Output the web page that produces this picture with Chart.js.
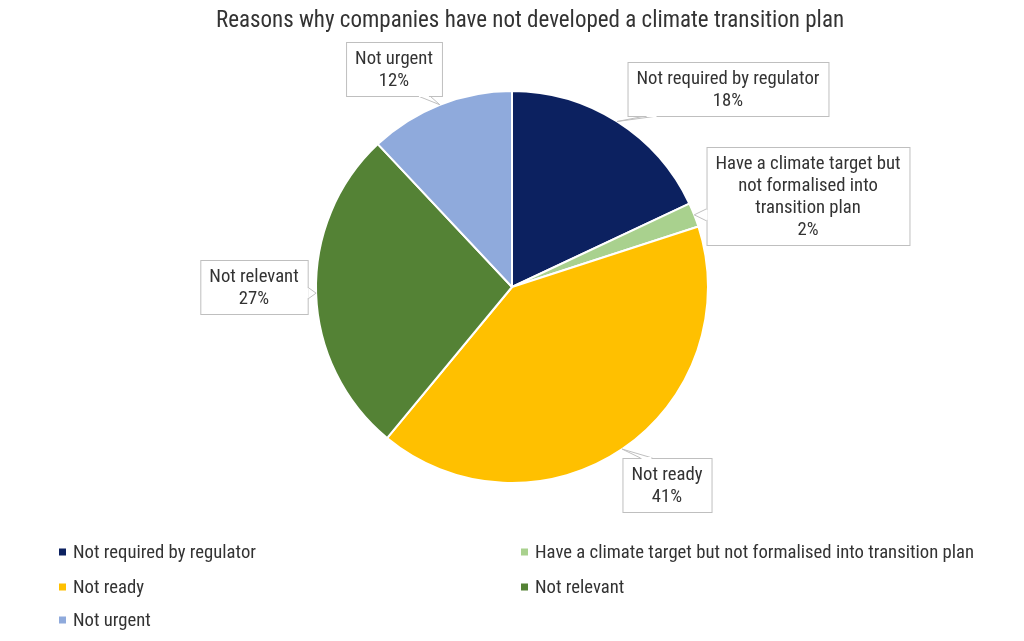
<!DOCTYPE html>
<html>
<head>
<meta charset="utf-8">
<script src="https://cdn.jsdelivr.net/npm/chart.js@4.4.1/dist/chart.umd.min.js"></script>
<style>
  html, body { margin: 0; padding: 0; background: #ffffff; }
  #wrap { width: 1024px; height: 641px; }
</style>
</head>
<body>
<div id="wrap"><canvas id="pieChart" width="1024" height="641"></canvas></div>
<script>
// Chart data
const chartTitle = 'Reasons why companies have not developed a climate transition plan';
const categories = [
    'Not required by regulator',
    'Have a climate target but not formalised into transition plan',
    'Not ready',
    'Not relevant',
    'Not urgent'
];
const shares = [18, 2, 41, 27, 12];
// Callout text as it wraps inside each box
const calloutLines = [
    ['Not required by regulator'],
    ['Have a climate target but', 'not formalised into', 'transition plan'],
    ['Not ready'],
    ['Not relevant'],
    ['Not urgent']
];
const sliceColors = ['#0c2160', '#a9d18e', '#ffc000', '#548235', '#8faadc'];

// Callout box centres, offset from the pie centre (layout only)
const calloutPos = [[216, -198], [296, -91], [155, 198], [-258, 0], [-118, -218]];

const FONT = "'Liberation Sans Narrow', 'Arial Narrow', 'Roboto Condensed', sans-serif";
const TEXT_COLOR = '#333333';

// Draws the title (sits a little right of centre), boxed data labels and the two-column legend
const calloutPlugin = {
    id: 'callouts',
    afterDatasetsDraw(chart) {
        const c = chart.ctx;
        const meta = chart.getDatasetMeta(0);
        c.save();

        c.font = '23px ' + FONT;
        c.textAlign = 'center';
        c.textBaseline = 'middle';
        c.fillStyle = TEXT_COLOR;
        c.fillText(chartTitle, chart.chartArea.left + chart.width / 2 + 18, 21);

        c.font = '18.7px ' + FONT;
        meta.data.forEach((arc, i) => {
            const p = arc.getProps(['x', 'y', 'startAngle', 'endAngle', 'outerRadius'], true);
            const mid = (p.startAngle + p.endAngle) / 2;
            const tip = { x: p.x + Math.cos(mid) * p.outerRadius, y: p.y + Math.sin(mid) * p.outerRadius };

            const lines = calloutLines[i].concat([shares[i] + '%']);
            const lineH = 22;
            let w = 0;
            lines.forEach(l => { w = Math.max(w, c.measureText(l).width); });
            w += 18;
            const h = lines.length * lineH + 10;
            const cx = p.x + calloutPos[i][0];
            const cy = p.y + calloutPos[i][1];
            const L = cx - w / 2, R = cx + w / 2, T = cy - h / 2, B = cy + h / 2;

            // wedge base on the box side facing the slice
            let b1, b2;
            const hw = 6;
            if (tip.y < T || tip.y > B) {
                const ey = tip.y < T ? T : B;
                const bx = Math.min(Math.max(tip.x, L + 24), R - 18);
                b1 = { x: bx - hw, y: ey }; b2 = { x: bx + hw, y: ey };
            } else {
                const ex = tip.x < L ? L : R;
                const by = Math.min(Math.max(tip.y, T + 14), B - 14);
                b1 = { x: ex, y: by - hw }; b2 = { x: ex, y: by + hw };
            }

            c.lineWidth = 1;
            c.strokeStyle = '#bfbfbf';
            c.fillStyle = '#ffffff';
            c.beginPath();
            c.moveTo(b1.x, b1.y);
            c.lineTo(tip.x, tip.y);
            c.lineTo(b2.x, b2.y);
            c.fill();
            c.stroke();
            c.fillRect(L, T, w, h);
            c.strokeRect(L + 0.5, T + 0.5, w, h);
            // open the border where the wedge joins
            c.beginPath();
            c.moveTo(b1.x + (b1.y === b2.y ? 1 : 0), b1.y + (b1.x === b2.x ? 1 : 0));
            c.lineTo(b2.x - (b1.y === b2.y ? 1 : 0), b2.y - (b1.x === b2.x ? 1 : 0));
            c.strokeStyle = '#ffffff';
            c.lineWidth = 2;
            c.stroke();

            c.fillStyle = TEXT_COLOR;
            lines.forEach((l, k) => {
                c.fillText(l, cx, T + 5 + lineH * (k + 0.5) + 1);
            });
        });

        // legend: two columns, left to right then down
        c.textAlign = 'left';
        const colX = [59, 521];
        const rowY = [552, 587, 620];
        categories.forEach((name, i) => {
            const x = colX[i % 2];
            const y = rowY[Math.floor(i / 2)];
            c.fillStyle = sliceColors[i];
            c.fillRect(x, y - 3.5, 7, 7);
            c.fillStyle = TEXT_COLOR;
            c.fillText(name, x + 14, y + 1);
        });
        c.restore();
    }
};

const ctx = document.getElementById('pieChart').getContext('2d');

new Chart(ctx, {
    type: 'pie',
    data: {
        labels: categories,
        datasets: [{
            data: shares,
            backgroundColor: sliceColors,
            borderColor: '#ffffff',
            borderWidth: 2
        }]
    },
    options: {
        responsive: false,
        animation: false,
        layout: { padding: { top: 90, bottom: 157, left: 0, right: 0 } },
        plugins: {
            legend: { display: false },
            tooltip: { enabled: false },
            title: { display: false }
        }
    },
    plugins: [calloutPlugin]
});
</script>
</body>
</html>
